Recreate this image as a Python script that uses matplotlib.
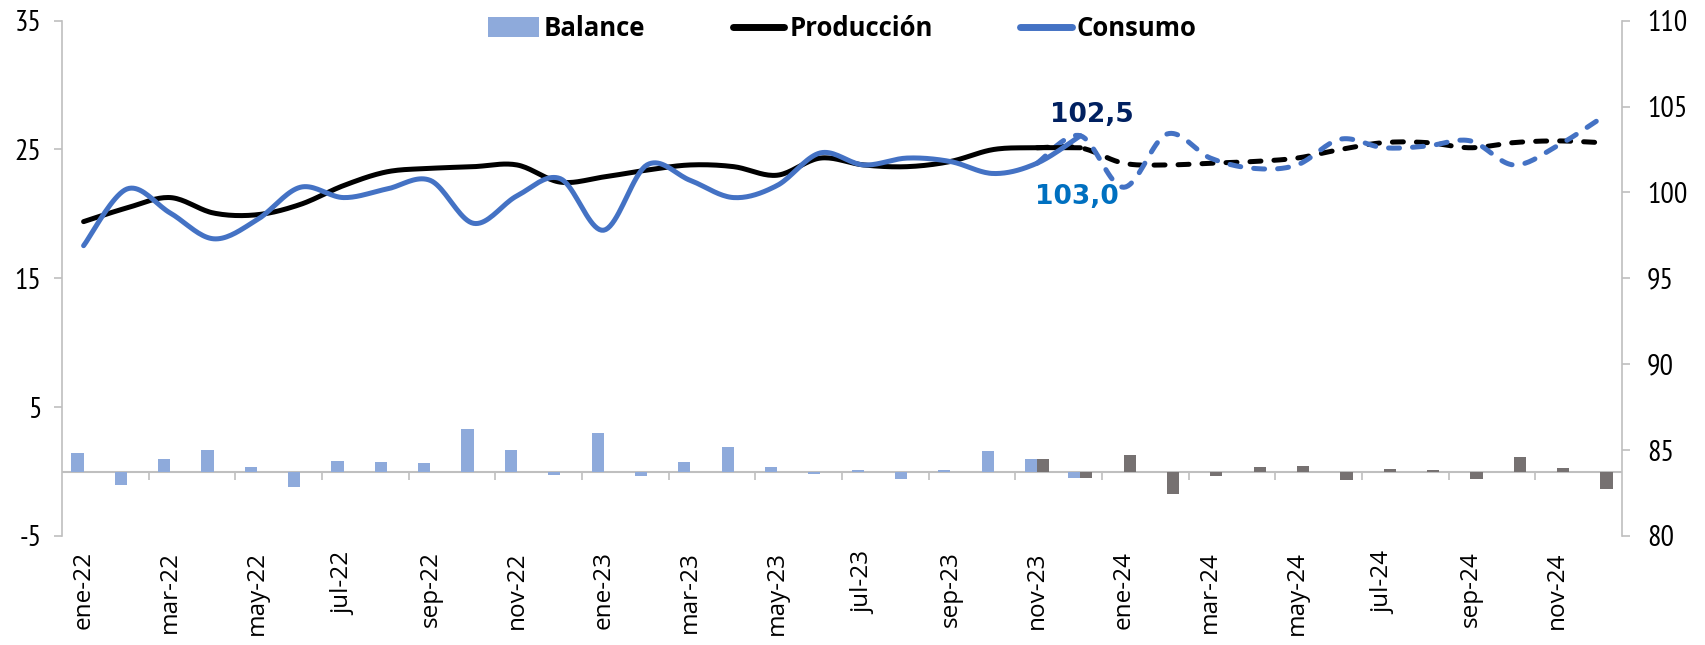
import numpy as np
import matplotlib
matplotlib.use("Agg")
import matplotlib.pyplot as plt
from matplotlib.lines import Line2D
from matplotlib.patches import Patch

# ---------------- data ----------------
months = ["ene", "feb", "mar", "abr", "may", "jun", "jul", "ago", "sep", "oct", "nov", "dic"]
years = ["22", "23", "24"]
labels = [f"{m}-{y}" for y in years for m in months]

balance = [1.41, -1.08, 0.97, 1.64, 0.36, -1.23, 0.85, 0.74, 0.69, 3.33, 1.67, -0.26,
           2.96, -0.31, 0.77, 1.90, 0.33, -0.18, 0.13, -0.54, 0.13, 1.56, 1.00, -0.51]
balance_prev = [1.00, -0.51, 1.31, -1.77, -0.33, 0.36, 0.46, -0.69, 0.23, 0.13, -0.59, 1.13, 0.28, -1.33]

produccion = [98.3, 99.1, 99.7, 98.8, 98.7, 99.3, 100.4, 101.2, 101.4, 101.5, 101.6, 100.6,
              100.9, 101.3, 101.6, 101.5, 101.0, 102.0, 101.6, 101.5, 101.8, 102.5, 102.6, 102.6]
produccion_prev = [102.6, 102.6, 101.7, 101.6, 101.7, 101.8, 102.0, 102.5, 102.9, 102.9, 102.6, 102.9, 103.0, 102.9]

consumo = [96.9, 100.2, 98.8, 97.3, 98.4, 100.3, 99.7, 100.2, 100.7, 98.2, 99.8, 100.8,
           97.8, 101.6, 100.7, 99.7, 100.4, 102.3, 101.6, 102.0, 101.8, 101.1, 101.7, 103.3]
consumo_prev = [101.7, 103.3, 100.3, 103.4, 102.0, 101.4, 101.6, 103.1, 102.6, 102.7, 103.0, 101.6, 102.7, 104.3]

prev_start = 22
label_prod = "102,5"
label_cons = "103,0"

# ---------------- style ----------------
plt.rcParams["font.family"] = ["Open Sans", "DejaVu Sans"]
plt.rcParams["axes.unicode_minus"] = False
YFONT = ["PT Sans Narrow", "DejaVu Sans"]
XFONT = ["Open Sans", "DejaVu Sans"]
C_BAR = "#8EAADB"
C_BAR_PREV = "#767171"
C_CONS = "#4472C4"
C_PROD = "#000000"
C_AX = "#BFBFBF"
LW = 3.6


def smooth(x, y, n=20):
    """Excel-like smoothed line (uniform Catmull-Rom / Bezier)."""
    x = np.asarray(x, float)
    y = np.asarray(y, float)
    P = np.column_stack([x, y])
    P = np.vstack([P[0], P, P[-1]])
    out = []
    t = np.linspace(0, 1, n, endpoint=False)[:, None]
    for i in range(1, len(P) - 2):
        p0, p1, p2, p3 = P[i - 1], P[i], P[i + 1], P[i + 2]
        c1 = p1 + (p2 - p0) / 6.0
        c2 = p2 - (p3 - p1) / 6.0
        seg = ((1 - t) ** 3) * p1 + 3 * ((1 - t) ** 2) * t * c1 + 3 * (1 - t) * t ** 2 * c2 + t ** 3 * p2
        out.append(seg)
    out.append(P[-2][None, :])
    out = np.vstack(out)
    return out[:, 0], out[:, 1]


fig = plt.figure(figsize=(17.06, 6.45), dpi=100)
ax = fig.add_axes([0.0363, 0.169, 0.9145, 0.799])
ax2 = ax.twinx()

n = len(labels)
xi = np.arange(n)
x_hist = np.arange(len(balance))
x_prev = np.arange(prev_start, prev_start + len(balance_prev))

w = 0.28
ax.bar(x_hist - w / 2, balance, width=w, color=C_BAR, zorder=2)
ax.bar(x_prev + w / 2, balance_prev, width=w, color=C_BAR_PREV, zorder=2)
ax.axhline(0, color=C_AX, lw=1.5, zorder=1)
ax.vlines(np.arange(2, n, 2) - 0.5, -0.62, 0, color=C_AX, lw=1.2, zorder=1)

ax.set_ylim(-5, 35)
ax.set_yticks([-5, 5, 15, 25, 35])
ax.set_xlim(-0.5, n - 0.5)
ax.set_xticks(xi[::2])
ax.set_xticklabels(labels[::2], rotation=90, fontsize=17.5, color="black", family=XFONT)
ax.tick_params(axis="x", length=0, pad=11)
ax.tick_params(axis="y", length=5.8, color=C_AX, width=1.2, pad=9)
for t in ax.get_yticklabels():
    t.set_family(YFONT)
    t.set_fontsize(21.5)

# lines
DASH = (2.2, 2.6)
xs, ys = smooth(x_prev, produccion_prev)
ax2.plot(xs, ys, color=C_PROD, lw=LW, dashes=DASH, dash_capstyle="round", zorder=3)
xs, ys = smooth(x_prev, consumo_prev)
ax2.plot(xs, ys, color=C_CONS, lw=LW, dashes=DASH, dash_capstyle="round", zorder=3)
xs, ys = smooth(x_hist, produccion)
ax2.plot(xs, ys, color=C_PROD, lw=LW, solid_capstyle="round", zorder=4)
xs, ys = smooth(x_hist, consumo)
ax2.plot(xs, ys, color=C_CONS, lw=LW, solid_capstyle="round", zorder=5)

ax2.set_ylim(80, 110)
ax2.set_yticks([80, 85, 90, 95, 100, 105, 110])
ax2.tick_params(axis="y", length=5.8, color=C_AX, width=1.2, pad=12)
for t in ax2.get_yticklabels():
    t.set_family(YFONT)
    t.set_fontsize(21.5)

ax2.text(23.27, 104.5, label_prod, color="#002060", fontsize=19, fontweight="bold",
         family=["DejaVu Sans"], ha="center", va="center", zorder=6)
ax2.text(22.93, 99.75, label_cons, color="#0070C0", fontsize=19, fontweight="bold",
         family=["DejaVu Sans"], ha="center", va="center", zorder=6)

for a in (ax, ax2):
    a.spines["top"].set_visible(False)
    a.spines["bottom"].set_visible(False)
    a.spines["left"].set_color(C_AX)
    a.spines["right"].set_color(C_AX)
    a.spines["left"].set_linewidth(1.2)
    a.spines["right"].set_linewidth(1.2)
ax.spines["right"].set_visible(False)
ax2.spines["left"].set_visible(False)

handles = [Patch(facecolor=C_BAR, edgecolor="none"),
           Line2D([0], [0], color=C_PROD, lw=5, solid_capstyle="round"),
           Line2D([0], [0], color=C_CONS, lw=5, solid_capstyle="round")]
leg = fig.legend(handles, ["Balance", "Producción", "Consumo"], loc="center",
                 bbox_to_anchor=(0.4936, 0.956), ncol=3, frameon=False,
                 prop={"family": ["Open Sans", "DejaVu Sans"], "weight": "bold", "size": 18.5},
                 handlelength=2.0, handleheight=0.8, handletextpad=0.2, columnspacing=3.4)

fig.savefig("out.png", dpi=100)
